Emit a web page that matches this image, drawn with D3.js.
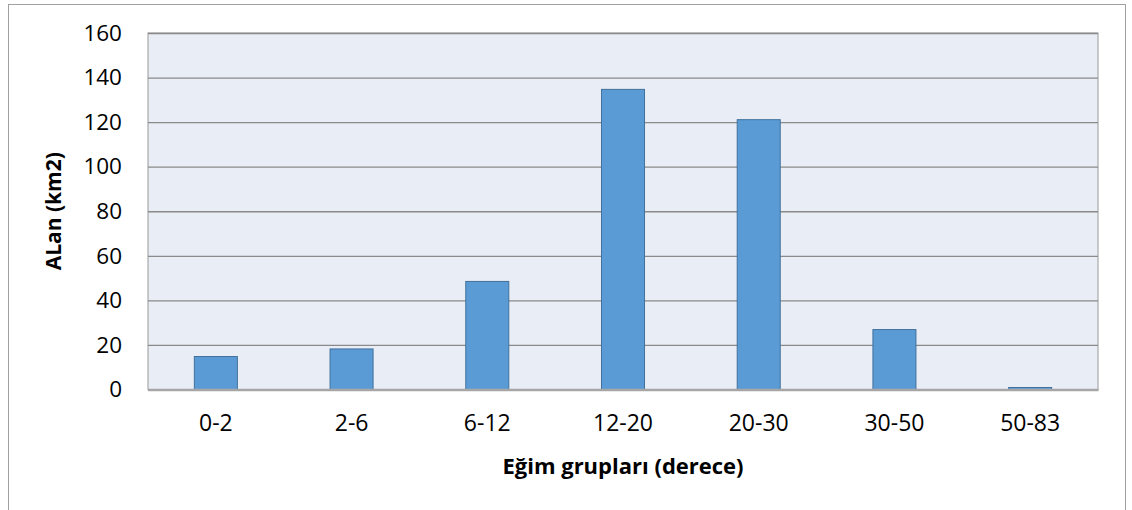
<!DOCTYPE html>
<html>
<head>
<meta charset="utf-8">
<script src="https://cdn.jsdelivr.net/npm/d3@7"></script>
<style>
  html, body { margin: 0; padding: 0; background: #fff; }
  svg { display: block; }
  text { font-family: "Open Sans", "Noto Sans", sans-serif; fill: #000; }
</style>
</head>
<body>
<svg id="chart" width="1132" height="510"></svg>
<script>
// Slope classes (degrees) and the area (km2) in each class
const categories = ["0-2", "2-6", "6-12", "12-20", "20-30", "30-50", "50-83"];
const areas = [14.8, 18.2, 48.5, 134.7, 121.1, 26.9, 0.9];
const yTicks = [0, 20, 40, 60, 80, 100, 120, 140, 160];
const xTitle = "Eğim grupları (derece)";
const yTitle = "ALan (km2)";

const svg = d3.select("#chart");
const plot = { left: 148, right: 1098, top: 33, bottom: 389.5 };

// Outer chart frame
svg.append("rect")
  .attr("x", 8.5).attr("y", 4.5)
  .attr("width", 1117).attr("height", 520)
  .attr("fill", "#fff").attr("stroke", "#a0a0a0").attr("stroke-width", 1);

const x = d3.scaleBand().domain(categories)
  .range([plot.left, plot.right]).paddingInner(0.683).paddingOuter(0.3415);
const y = d3.scaleLinear().domain([0, 160]).range([plot.bottom, plot.top]);

// Plot background
svg.append("rect")
  .attr("x", plot.left).attr("y", plot.top)
  .attr("width", plot.right - plot.left).attr("height", plot.bottom - plot.top)
  .attr("fill", "#e9edf5").attr("stroke", "#9a9a9a").attr("stroke-width", 1);

// Horizontal gridlines and value labels
const yAxis = d3.axisLeft(y).tickValues(yTicks).tickSize(-(plot.right - plot.left)).tickPadding(26);
const gy = svg.append("g").attr("transform", `translate(${plot.left},0)`).call(yAxis);
gy.select(".domain").remove();
gy.selectAll(".tick line").attr("stroke", "#8a8a8a").attr("stroke-width", 1.3);
gy.selectAll(".tick text").attr("font-size", 22.5).attr("fill", "#000");

// Bars
svg.append("g").selectAll("rect")
  .data(areas)
  .join("rect")
  .attr("x", (d, i) => x(categories[i]))
  .attr("y", d => y(d))
  .attr("width", x.bandwidth())
  .attr("height", d => y(0) - y(d))
  .attr("fill", "#5b9bd5")
  .attr("stroke", "#41719c")
  .attr("stroke-width", 1);

// Category axis
const xAxis = d3.axisBottom(x).tickSize(0).tickPadding(25.5);
const gx = svg.append("g").attr("transform", `translate(0,${plot.bottom})`).call(xAxis);
gx.select(".domain").attr("stroke", "#a6a6a6").attr("stroke-width", 2.5);
gx.selectAll(".tick text").attr("font-size", 23).attr("fill", "#000");

// Axis titles
svg.append("text")
  .attr("x", (plot.left + plot.right) / 2).attr("y", 474)
  .attr("text-anchor", "middle")
  .attr("font-size", 22).attr("font-weight", "bold")
  .text(xTitle);

svg.append("text")
  .attr("transform", `translate(61,${(plot.top + plot.bottom) / 2}) rotate(-90)`)
  .attr("text-anchor", "middle")
  .attr("font-size", 21).attr("font-weight", "bold")
  .text(yTitle);
</script>
</body>
</html>
